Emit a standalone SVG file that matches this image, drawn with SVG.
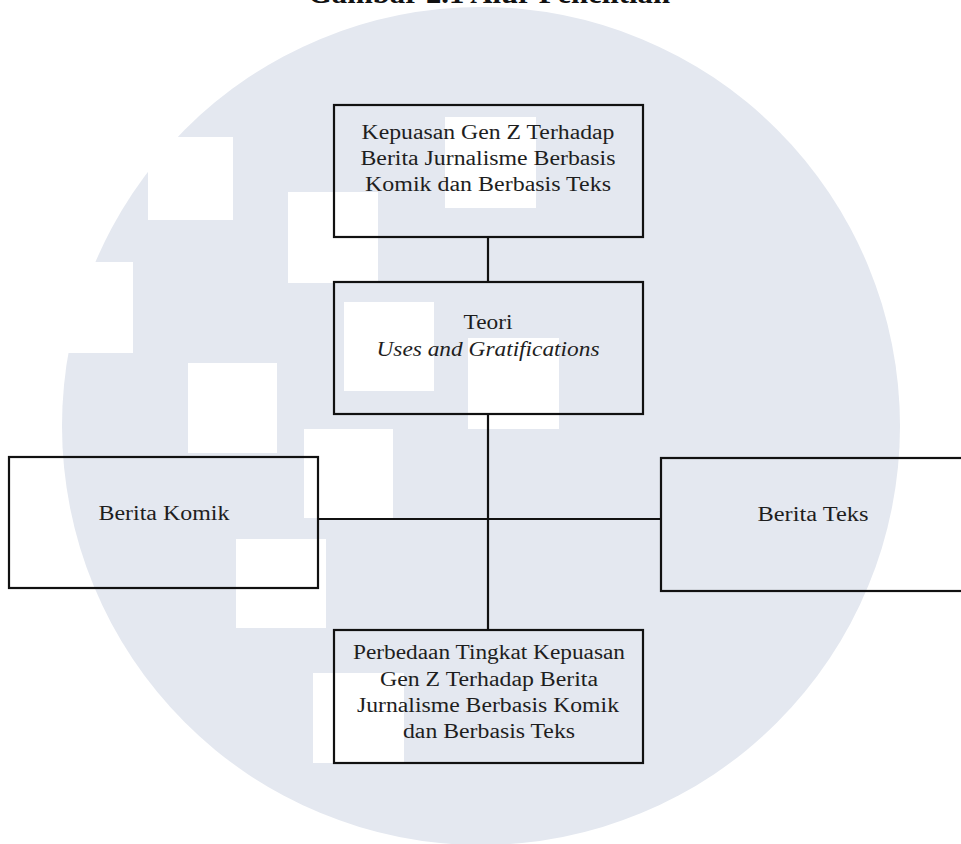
<svg xmlns="http://www.w3.org/2000/svg" width="961" height="844" viewBox="0 0 961 844">
<style>
.box{fill:none;stroke:#111;stroke-width:2.2}
.ln{fill:none;stroke:#111;stroke-width:2.2}
.t{font-family:"Liberation Serif","Times New Roman",serif;font-size:20px;fill:#1e1e1e;text-anchor:middle}
.ti{font-style:italic}
.title{font-family:"Liberation Serif","Times New Roman",serif;font-size:30px;font-weight:bold;fill:#111;text-anchor:middle}
.sq{fill:#ffffff}
</style>
<rect x="0" y="0" width="961" height="844" fill="#ffffff"/>
<g id="watermark">
<circle cx="481" cy="426" r="419" fill="#e4e8f0"/>
<rect class="sq" x="148" y="137" width="85" height="83"/>
<rect class="sq" x="288" y="192" width="90" height="91"/>
<rect class="sq" x="43" y="262" width="90" height="91"/>
<rect class="sq" x="188" y="363" width="89" height="90"/>
<rect class="sq" x="304" y="429" width="89" height="89"/>
<rect class="sq" x="236" y="539" width="90" height="89"/>
<rect class="sq" x="344" y="302" width="90" height="89"/>
<rect class="sq" x="468" y="338" width="91" height="91"/>
<rect class="sq" x="445" y="117" width="91" height="91"/>
<rect class="sq" x="313" y="673" width="91" height="90"/>
</g>
<text class="title" x="489" y="3" textLength="362" lengthAdjust="spacingAndGlyphs">Gambar 2.1 Alur Penelitian</text>
<g id="connectors">
<line class="ln" x1="488" y1="237" x2="488" y2="282"/>
<line class="ln" x1="488" y1="414" x2="488" y2="630"/>
<line class="ln" x1="318" y1="519" x2="661" y2="519"/>
</g>
<g id="node-kepuasan">
<rect class="box" x="334" y="105" width="309" height="132"/>
<text class="t" x="488" y="139" textLength="253" lengthAdjust="spacingAndGlyphs">Kepuasan Gen Z Terhadap</text>
<text class="t" x="488" y="165" textLength="255" lengthAdjust="spacingAndGlyphs">Berita Jurnalisme Berbasis</text>
<text class="t" x="488" y="191" textLength="246" lengthAdjust="spacingAndGlyphs">Komik dan Berbasis Teks</text>
</g>
<g id="node-teori">
<rect class="box" x="334" y="282" width="309" height="132"/>
<text class="t" x="488" y="329" textLength="49" lengthAdjust="spacingAndGlyphs">Teori</text>
<text class="t ti" x="488" y="356" textLength="223" lengthAdjust="spacingAndGlyphs">Uses and Gratifications</text>
</g>
<g id="node-komik">
<rect class="box" x="9" y="457" width="309" height="131"/>
<text class="t" x="164" y="520" textLength="131" lengthAdjust="spacingAndGlyphs">Berita Komik</text>
</g>
<g id="node-teks">
<rect class="box" x="661" y="458" width="310" height="133"/>
<text class="t" x="813" y="521" textLength="111" lengthAdjust="spacingAndGlyphs">Berita Teks</text>
</g>
<g id="node-perbedaan">
<rect class="box" x="334" y="630" width="309" height="133"/>
<text class="t" x="489" y="659" textLength="272" lengthAdjust="spacingAndGlyphs">Perbedaan Tingkat Kepuasan</text>
<text class="t" x="489" y="686" textLength="218" lengthAdjust="spacingAndGlyphs">Gen Z Terhadap Berita</text>
<text class="t" x="488" y="712" textLength="262" lengthAdjust="spacingAndGlyphs">Jurnalisme Berbasis Komik</text>
<text class="t" x="489" y="738" textLength="172" lengthAdjust="spacingAndGlyphs">dan Berbasis Teks</text>
</g>
</svg>
